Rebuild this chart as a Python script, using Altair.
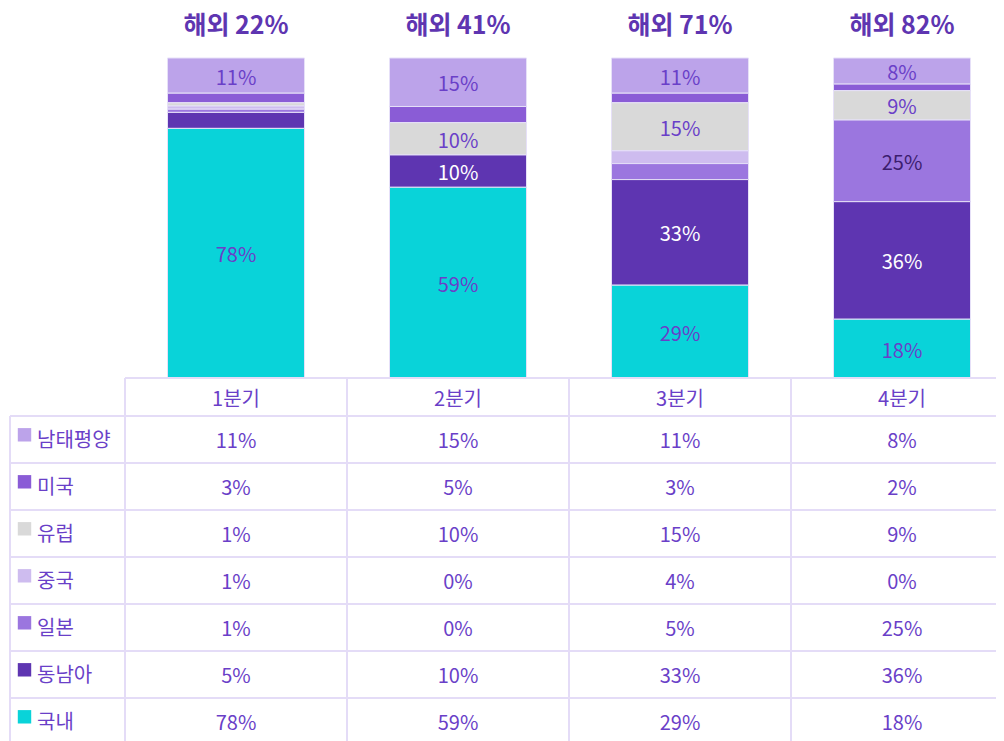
import altair as alt
import pandas as pd

# ---------------- data ----------------
quarters = ["1분기", "2분기", "3분기", "4분기"]
overseas = [22, 41, 71, 82]
regions = ["남태평양", "미국", "유럽", "중국", "일본", "동남아", "국내"]
v_south_pacific = [11, 15, 11, 8]
v_usa = [3, 5, 3, 2]
v_europe = [1, 10, 15, 9]
v_china = [1, 0, 4, 0]
v_japan = [1, 0, 5, 25]
v_sea = [5, 10, 33, 36]
v_domestic = [78, 59, 29, 18]
series = [v_south_pacific, v_usa, v_europe, v_china, v_japan, v_sea, v_domestic]
colors = ["#bca3ea", "#8a5cd6", "#d9d9d9", "#cebcef", "#9b76df", "#5e35b1", "#09d3d9"]
label_colors = ["#6a3fc8", "#6a3fc8", "#6a3fc8", "#6a3fc8", "#3b1d6e", "#ffffff", "#6a3fc8"]

TXT = "#6a3fc8"
GRID = "#e4dcf7"
FONT = "Noto Sans CJK KR"

# ---------------- layout (page pixels) ----------------
OX, OY = 8, 8
W, H = 988, 733
COL0, COLW = 236, 222
BASE, TOP = 378, 58
LINE0, ROWH = 416, 47
LEFT_EDGE = 10

def xi(px):
    return (px - COL0) / COLW

def rr(py):
    return (py - LINE0) / ROWH + 0.5

x_dom = [xi(OX), xi(OX + W)]
span = BASE - TOP
yb_dom = [(BASE - (OY + H)) / span, (BASE - OY) / span]
yt_dom = [rr(OY), rr(OY + H)]
header_top = rr(BASE)
header_mid = (header_top + 0.5) / 2
last_r = len(regions)

# ---------------- tables ----------------
rows = []
for ri, (reg, vals) in enumerate(zip(regions, series)):
    for qi, (q, v) in enumerate(zip(quarters, vals)):
        rows.append({"q": q, "qi": qi, "region": reg, "v": v,
                     "ord": len(regions) - 1 - ri, "r": ri + 1,
                     "lab": f"{v}%", "lc": label_colors[ri]})
df = pd.DataFrame(rows)

xs = alt.Scale(domain=x_dom, nice=False, zero=False, padding=0)
ybs = alt.Scale(domain=yb_dom, nice=False, zero=False, padding=0)
yts = alt.Scale(domain=yt_dom, nice=False, zero=False, reverse=True, padding=0)
cscale = alt.Scale(domain=regions, range=colors)

stacked = (alt.Chart(df)
           .transform_joinaggregate(total="sum(v)", groupby=["q"])
           .transform_window(cum="sum(v)", sort=[{"field": "ord"}], groupby=["q"], frame=[None, 0])
           .transform_calculate(lo="(datum.cum - datum.v) / datum.total",
                                hi="datum.cum / datum.total",
                                mid="(datum.cum - datum.v / 2) / datum.total"))

bars = stacked.transform_filter("datum.v > 0").mark_bar(size=137, stroke="#e6e0f8", strokeWidth=1).encode(
    x=alt.X("qi:Q", scale=xs, axis=None),
    y=alt.Y("lo:Q", scale=ybs, axis=None),
    y2="hi:Q",
    color=alt.Color("region:N", scale=cscale, legend=None),
)

bar_labels = stacked.transform_filter("datum.v >= 8").mark_text(
    font=FONT, fontSize=20, baseline="middle", dy=3).encode(
    x=alt.X("qi:Q", scale=xs, axis=None),
    y=alt.Y("mid:Q", scale=ybs, axis=None),
    text="lab:N",
    color=alt.Color("lc:N", scale=None),
)

tdf = pd.DataFrame({"qi": list(range(len(quarters))), "q": quarters,
                    "t": [f"해외 {o}%" for o in overseas]})
titles = alt.Chart(tdf).transform_calculate(ty=str((BASE - 22) / span)).mark_text(
    font=FONT, fontSize=25, fontWeight="bold", color="#5e35b1", baseline="middle", dy=4).encode(
    x=alt.X("qi:Q", scale=xs, axis=None),
    y=alt.Y("ty:Q", scale=ybs, axis=None),
    text="t:N",
)

# table grid
hl = [{"x": -0.5, "x2": len(quarters) - 0.5, "y": header_top}]
hl += [{"x": xi(LEFT_EDGE), "x2": len(quarters) - 0.5, "y": k + 0.5} for k in range(last_r + 1)]
hdf = pd.DataFrame(hl)
hlines = alt.Chart(hdf).mark_rule(color=GRID, strokeWidth=2).encode(
    x=alt.X("x:Q", scale=xs, axis=None), x2="x2:Q",
    y=alt.Y("y:Q", scale=yts, axis=None))

vl = [{"x": xi(LEFT_EDGE), "y": 0.5, "y2": last_r + 0.5}]
vl += [{"x": k - 0.5, "y": header_top, "y2": last_r + 0.5} for k in range(len(quarters) + 1)]
vdf = pd.DataFrame(vl)
vlines = alt.Chart(vdf).mark_rule(color=GRID, strokeWidth=2).encode(
    x=alt.X("x:Q", scale=xs, axis=None),
    y=alt.Y("y:Q", scale=yts, axis=None), y2="y2:Q")

header = alt.Chart(tdf).transform_calculate(hy=str(header_mid)).mark_text(
    font=FONT, fontSize=20, color=TXT, baseline="middle", dy=3).encode(
    x=alt.X("qi:Q", scale=xs, axis=None),
    y=alt.Y("hy:Q", scale=yts, axis=None),
    text="q:N")

cells = alt.Chart(df).mark_text(font=FONT, fontSize=20, color=TXT, baseline="middle", dy=2).encode(
    x=alt.X("qi:Q", scale=xs, axis=None),
    y=alt.Y("r:Q", scale=yts, axis=None),
    text="lab:N")

ldf = pd.DataFrame({"region": regions, "r": list(range(1, last_r + 1))})
sq = alt.Chart(ldf).transform_calculate(sx=str(xi(24.5)), sy="datum.r - 0.1").mark_square(
    size=180, opacity=1).encode(
    x=alt.X("sx:Q", scale=xs, axis=None),
    y=alt.Y("sy:Q", scale=yts, axis=None),
    color=alt.Color("region:N", scale=cscale, legend=None))
ltxt = alt.Chart(ldf).transform_calculate(tx=str(xi(37))).mark_text(
    font=FONT, fontSize=20, color=TXT, align="left", baseline="middle", dy=1).encode(
    x=alt.X("tx:Q", scale=xs, axis=None),
    y=alt.Y("r:Q", scale=yts, axis=None),
    text="region:N")

top = alt.layer(bars, bar_labels, titles)
bottom = alt.layer(hlines, vlines, header, cells, sq, ltxt)

chart = alt.layer(top, bottom).resolve_scale(y="independent", color="independent").properties(
    width=W, height=H, padding=0, autosize="none"
).configure_view(stroke=None)

chart.save("out.html", embed_options={"renderer": "svg", "actions": False})
